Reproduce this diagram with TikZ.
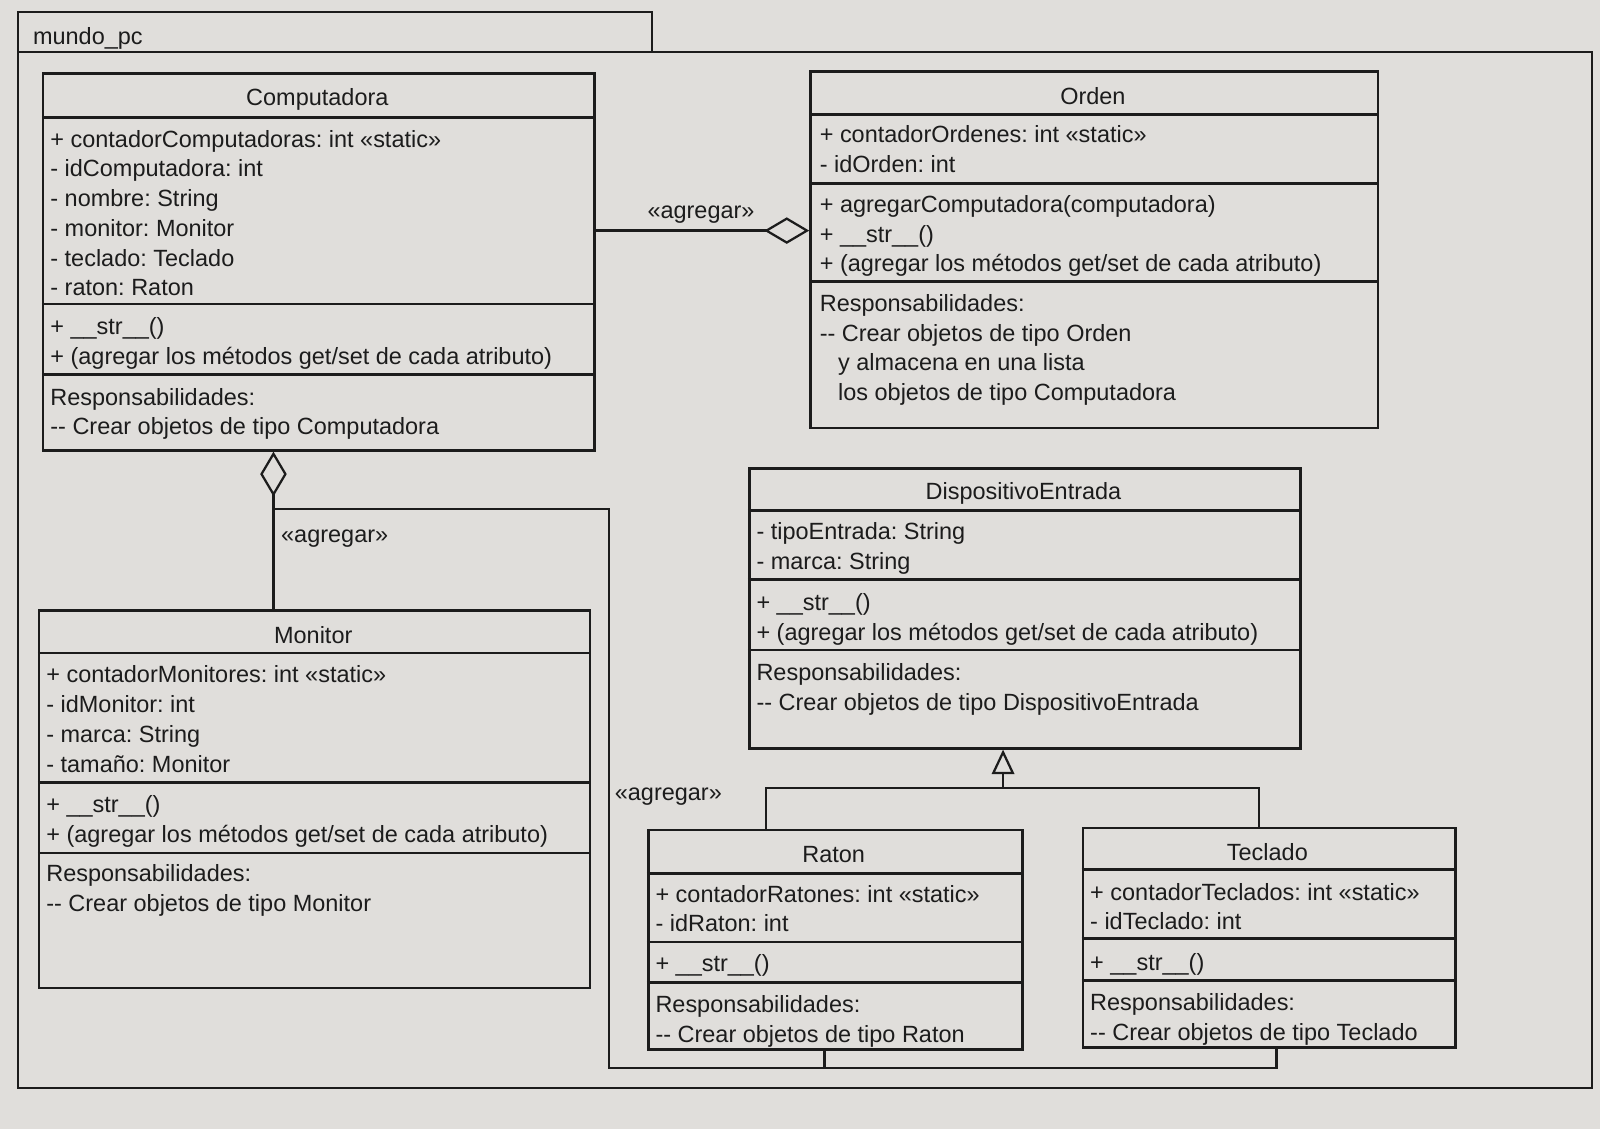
\documentclass[tikz,border=0pt]{standalone}
\usepackage{fontspec}
\setmainfont{Liberation Sans}
\usetikzlibrary{arrows.meta}
\frenchspacing

\definecolor{screen}{RGB}{224,222,219}
\definecolor{ink}{RGB}{28,28,28}

\tikzset{
	umlbox/.style={draw=ink,line width=1.3pt,anchor=north west,inner sep=0pt},
	umlname/.style={text=ink,inner sep=0pt,font=\fontsize{11.5}{14.6}\selectfont},
	umltext/.style={text=ink,anchor=north west,align=left,inner sep=0pt,font=\fontsize{11.5}{14.6}\selectfont},
	stereo/.style={text=ink,inner sep=0pt,font=\fontsize{11.5}{14.6}\selectfont},
	link/.style={draw=ink,line width=1.1pt},
	agg/.style={link,-{Diamond[open,length=22pt,width=13pt]}},
	gen/.style={link,-{Triangle[open,length=12pt,width=11pt]}},
}

\begin{document}
\begin{tikzpicture}[x=0.5pt,y=-0.5pt]
	\fill[screen] (0,0) rectangle (1568,1106);
	\useasboundingbox (0,0) rectangle (1568,1106);

	%PACKAGE FRAME
	\draw[ink,line width=1.1pt] (18,51)--(18,12)--(639,12)--(639,51);
	\draw[ink,line width=1.1pt] (18,51) rectangle (1560,1066);
	\node[umltext,anchor=west] (pkg) at (32,38) {mundo\_pc};

	%CLASS BOXES
	\node[umlbox,minimum width=270pt,minimum height=184.5pt] (comp) at (41,71) {};
	\node[umlbox,minimum width=278pt,minimum height=174.5pt] (orden) at (793,69) {};
	\node[umlbox,minimum width=270pt,minimum height=137pt] (disp) at (733,458) {};
	\node[umlbox,minimum width=270pt,minimum height=185pt] (monitor) at (37,597) {};
	\node[umlbox,minimum width=183.5pt,minimum height=107.5pt] (raton) at (634,812) {};
	\node[umlbox,minimum width=182.5pt,minimum height=107.5pt] (teclado) at (1060,810) {};

	%COMPARTMENT LINES
	\draw[ink,line width=1.3pt] (41,115)--(581,115) (41,298)--(581,298) (41,367)--(581,367);
	\draw[ink,line width=1.3pt] (793,112)--(1349,112) (793,180)--(1349,180) (793,276)--(1349,276);
	\draw[ink,line width=1.3pt] (733,500)--(1273,500) (733,568)--(1273,568) (733,637)--(1273,637);
	\draw[ink,line width=1.3pt] (37,640)--(577,640) (37,767)--(577,767) (37,836)--(577,836);
	\draw[ink,line width=1.3pt] (634,856)--(1001,856) (634,923)--(1001,923) (634,963)--(1001,963);
	\draw[ink,line width=1.3pt] (1060,852)--(1425,852) (1060,920)--(1425,920) (1060,961)--(1425,961);

	%COMPUTADORA
	\node[umlname] (compName) at (311,97) {Computadora};
	\node[umltext] (compAttr) at (49,127) {+ contadorComputadoras: int «static»\\- idComputadora: int\\- nombre: String\\- monitor: Monitor\\- teclado: Teclado\\- raton: Raton};
	\node[umltext] (compOps) at (49,311) {+ \_\_str\_\_()\\+ (agregar los métodos get/set de cada atributo)};
	\node[umltext] (compResp) at (49,380) {Responsabilidades:\\-{}- Crear objetos de tipo Computadora};

	%ORDEN
	\node[umlname] (ordenName) at (1071,94) {Orden};
	\node[umltext] (ordenAttr) at (803,123) {+ contadorOrdenes: int «static»\\- idOrden: int};
	\node[umltext] (ordenOps) at (803,191) {+ agregarComputadora(computadora)\\+ \_\_str\_\_()\\+ (agregar los métodos get/set de cada atributo)};
	\node[umltext] (ordenResp) at (803,288) {Responsabilidades:\\-{}- Crear objetos de tipo Orden\\\hspace*{9pt}y almacena en una lista\\\hspace*{9pt}los objetos de tipo Computadora};

	%DISPOSITIVOENTRADA
	\node[umlname] (dispName) at (1003,484) {DispositivoEntrada};
	\node[umltext] (dispAttr) at (741,512) {- tipoEntrada: String\\- marca: String};
	\node[umltext] (dispOps) at (741,581) {+ \_\_str\_\_()\\+ (agregar los métodos get/set de cada atributo)};
	\node[umltext] (dispResp) at (741,650) {Responsabilidades:\\-{}- Crear objetos de tipo DispositivoEntrada};

	%MONITOR
	\node[umlname] (monitorName) at (307,622) {Monitor};
	\node[umltext] (monitorAttr) at (45,652) {+ contadorMonitores: int «static»\\- idMonitor: int\\- marca: String\\- tamaño: Monitor};
	\node[umltext] (monitorOps) at (45,779) {+ \_\_str\_\_()\\+ (agregar los métodos get/set de cada atributo)};
	\node[umltext] (monitorResp) at (45,847) {Responsabilidades:\\-{}- Crear objetos de tipo Monitor};

	%RATON
	\node[umlname] (ratonName) at (817,837) {Raton};
	\node[umltext] (ratonAttr) at (642,867) {+ contadorRatones: int «static»\\- idRaton: int};
	\node[umltext] (ratonOps) at (642,935) {+ \_\_str\_\_()};
	\node[umltext] (ratonResp) at (642,975) {Responsabilidades:\\-{}- Crear objetos de tipo Raton};

	%TECLADO
	\node[umlname] (tecladoName) at (1242,835) {Teclado};
	\node[umltext] (tecladoAttr) at (1068,865) {+ contadorTeclados: int «static»\\- idTeclado: int};
	\node[umltext] (tecladoOps) at (1068,934) {+ \_\_str\_\_()};
	\node[umltext] (tecladoResp) at (1068,973) {Responsabilidades:\\-{}- Crear objetos de tipo Teclado};

	%AGGREGATIONS
	\coordinate (aggRow) at (0,226);
	\coordinate (aggCol) at (268,0);
	\coordinate (busTop) at (597,499);
	\coordinate (busL) at (597,1047);
	\coordinate (busM) at (808,1047);
	\coordinate (busR) at (1251,1047);
	\draw[agg] (comp.east |- aggRow)--(orden.west |- aggRow);
	\draw[agg] (monitor.north -| aggCol)--(comp.south -| aggCol);
	\draw[link] (teclado.south -| busR)--(busR)--(busL)--(busTop)--(busTop -| aggCol);
	\draw[link] (raton.south -| busM)--(busM);
	\node[stereo] (aggLbl1) at (687,210) {«agregar»};
	\node[stereo] (aggLbl2) at (328,528) {«agregar»};
	\node[stereo] (aggLbl3) at (655,781) {«agregar»};

	%GENERALIZATION
	\coordinate (genRow) at (0,772);
	\coordinate (genCol) at (983,0);
	\coordinate (ratonCol) at (751,0);
	\coordinate (tecladoCol) at (1234,0);
	\draw[link] (raton.north -| ratonCol) |- (genRow -| tecladoCol)--(teclado.north -| tecladoCol);
	\draw[gen] (genRow -| genCol)--(disp.south -| genCol);
\end{tikzpicture}
\end{document}
